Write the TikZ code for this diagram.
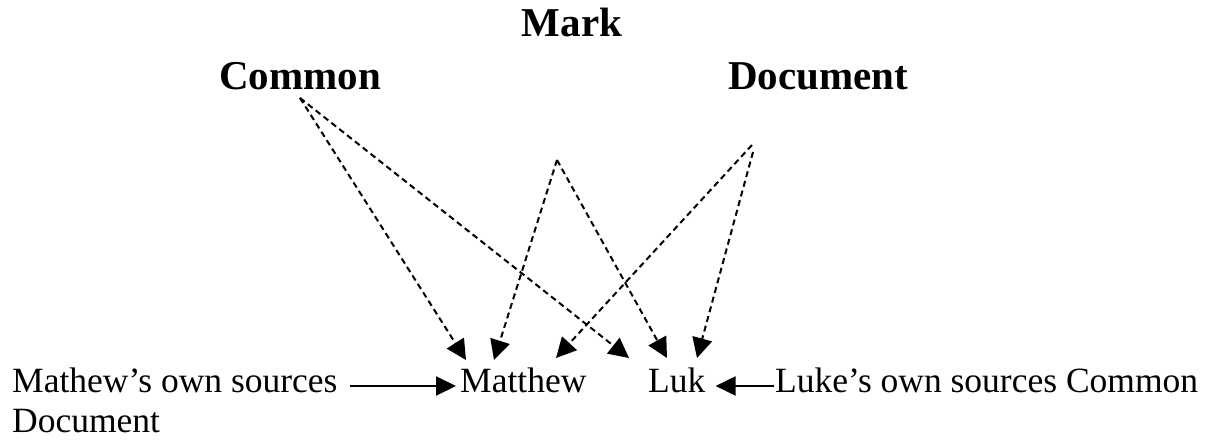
\documentclass[tikz,border=0pt]{standalone}
\usepackage{fontspec}
\setmainfont{Liberation Serif}
\usetikzlibrary{arrows.meta}
\tikzset{
  toplabel/.style={font=\fontsize{41}{45}\selectfont\bfseries, inner sep=0pt, anchor=base},
  botlabel/.style={font=\fontsize{35.5}{40}\selectfont, inner sep=0pt, anchor=base west},
  dasharrow/.style={line width=2pt, dash pattern=on 6pt off 4pt, -{Triangle[length=20pt,width=20pt]}},
  solidarrow/.style={line width=2pt, -{Triangle[length=20pt,width=19pt]}}
}
\begin{document}
\begin{tikzpicture}[x=1pt,y=-1pt]
\path[use as bounding box, fill=white] (0,0) rectangle (1205,441);
% top labels
\node[toplabel] (mark) at (572,37) {Mark};
\node[toplabel] (common) at (300,90) {Common};
\node[toplabel] (document) at (818,90) {Document};
% bottom labels
\node[botlabel] (mos) at (12,392) {Mathew's own sources};
\node[botlabel] (matt) at (460,392) {Matthew};
\node[botlabel] (luk) at (648,392) {Luk};
\node[botlabel] (los) at (775,392) {Luke's own sources Common};
\node[botlabel] (doc2) at (12,432) {Document};
% line start points
\coordinate (cs) at (300,98);
\coordinate (ms) at (557,160);
\coordinate (ds1) at (752,145);
\coordinate (ds2) at (753,152);
% arrow tips
\coordinate (t1) at (466,360);
\coordinate (t2) at (494,360);
\coordinate (t3) at (556,358);
\coordinate (t4) at (629,358);
\coordinate (t5) at (667,358);
\coordinate (t6) at (697,358);
% dashed connectors
\draw[dasharrow] (cs) -- (t1);
\draw[dasharrow] (cs) -- (t4);
\draw[dasharrow] (ms) -- (t2);
\draw[dasharrow] (ms) -- (t5);
\draw[dasharrow] (ds1) -- (t3);
\draw[dasharrow] (ds2) -- (t6);
% solid arrows
\draw[solidarrow] ([shift={(12,-6)}]mos.base east) -- ([shift={(-4,-6)}]matt.base west);
\draw[solidarrow] ([shift={(-1,-6)}]los.base west) -- ([shift={(10,-6)}]luk.base east);
\end{tikzpicture}
\end{document}
